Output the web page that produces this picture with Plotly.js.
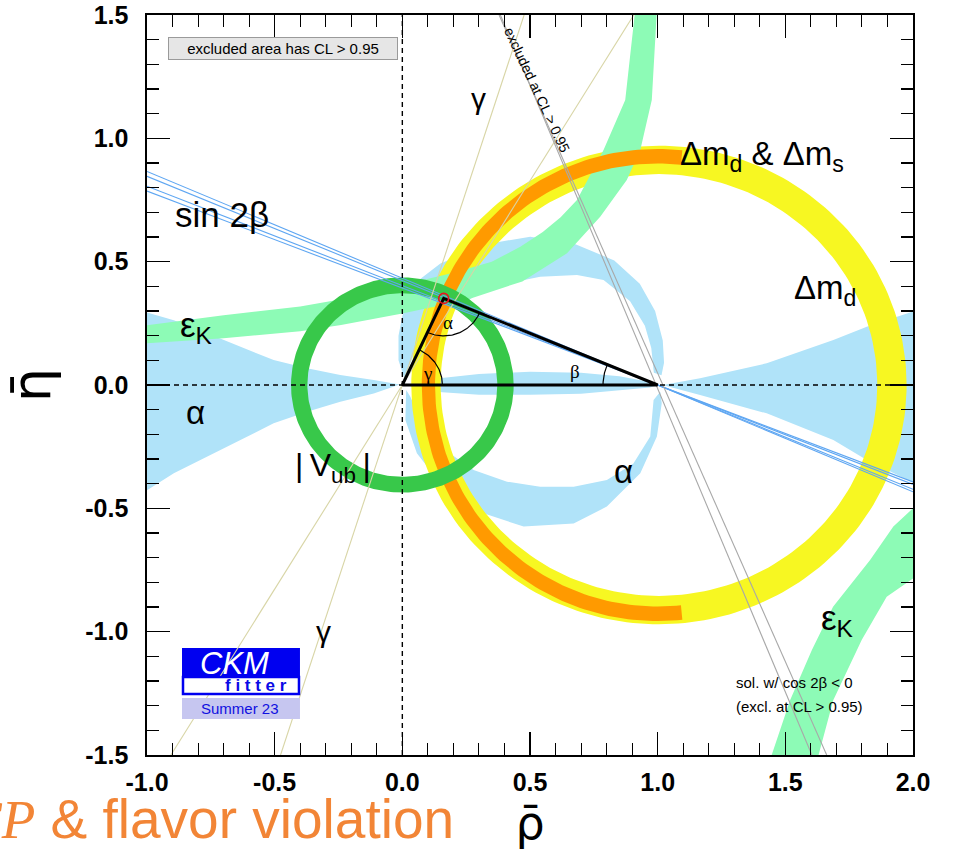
<!DOCTYPE html>
<html><head><meta charset="utf-8">
<script src="https://cdn.plot.ly/plotly-3.0.1.min.js"></script>
<style>html,body{margin:0;padding:0;background:#fff}</style>
</head><body><div id="chart" style="width:955px;height:859px"></div>
<script>
// ================= values =================
const xTickVals = [-1.0, -0.5, 0.0, 0.5, 1.0, 1.5, 2.0];
const xTickText = ['-1.0', '-0.5', '0.0', '0.5', '1.0', '1.5', '2.0'];
const yTickVals = [-1.5, -1.0, -0.5, 0.0, 0.5, 1.0, 1.5];
const yTickText = ['-1.5', '-1.0', '-0.5', '0.0', '0.5', '1.0', '1.5'];

// Δm_d : annulus around (1,0)
const dmdCentre = [1.005, 0.0];
const dmdRadii = [0.855, 0.970];
// Δm_d & Δm_s : partial elliptic band (semi-axes ρ̄, η̄; angles in degrees ccw from +ρ̄)
const dmsCentre = [1.0, 0.0];
const dmsOuterAxes = [0.924, 0.957];
const dmsInnerAxes = [0.872, 0.898];
const dmsAngles = [84, 276];
// |V_ub| : annulus around (0,0)
const vubCentre = [0.0, 0.0];
const vubRadii = [0.372, 0.436];
// sin 2β : lines through (1,0); η̄ value reached at ρ̄ = -1
const sin2bEtaAtMinus1 = [0.866, 0.846, 0.806, 0.786];
// γ : lines through (0,0); slopes η̄/ρ̄
const gammaSlopes = [1.655, 3.145];
// cos 2β < 0 solution lines: ρ̄ at η̄ = +1.5 and at η̄ = -1.5
const cos2bRhoTop = [0.384, 0.379];
const cos2bRhoBottom = [1.604, 1.662];
// unitarity triangle apex
const apex = [0.162, 0.351];

// α : left wedge (upper edge, then lower edge)
const alphaLeftUpRho = [-1.02, -0.895, -0.764, -0.634, -0.504, -0.373, -0.243, -0.112, -0.01];
const alphaLeftUpEta = [0.300, 0.263, 0.210, 0.155, 0.101, 0.068, 0.041, 0.020, 0.002];
const alphaLeftLoRho = [-0.112, -0.243, -0.373, -0.504, -0.634, -0.764, -0.895, -1.02];
const alphaLeftLoEta = [-0.034, -0.068, -0.108, -0.155, -0.223, -0.290, -0.358, -0.440];
// α : right wedge
const alphaRightUpRho = [1.02, 1.166, 1.427, 1.688, 1.819, 2.02];
const alphaRightUpEta = [0.0, 0.027, 0.088, 0.182, 0.236, 0.305];
const alphaRightLoRho = [2.02, 1.819, 1.688, 1.427, 1.166];
const alphaRightLoEta = [-0.405, -0.304, -0.223, -0.115, -0.041];
// α : thin lens between (0,0) and (1,0)
const alphaLensRho = [0.03, 0.10, 0.30, 0.50, 0.70, 0.85, 0.97, 1.00, 0.97, 0.85, 0.70, 0.50, 0.30, 0.10];
const alphaLensEta = [0.0, 0.022, 0.045, 0.054, 0.050, 0.035, 0.012, 0.0, -0.010, -0.020, -0.035, -0.040, -0.040, -0.025];
// α : upper crescent (outer edge, then inner edge)
const alphaUpOutRho = [0.010, -0.015, -0.015, 0.000, 0.031, 0.070, 0.149, 0.344, 0.501, 0.671, 0.830, 0.930, 0.990, 1.020, 1.025, 1.015];
const alphaUpOutEta = [0.020, 0.100, 0.200, 0.280, 0.358, 0.430, 0.493, 0.574, 0.601, 0.574, 0.505, 0.410, 0.300, 0.180, 0.090, 0.040];
const alphaUpInRho = [0.985, 0.975, 0.950, 0.892, 0.788, 0.684, 0.540, 0.410, 0.279, 0.149, 0.058, 0.025];
const alphaUpInEta = [0.050, 0.150, 0.240, 0.340, 0.426, 0.446, 0.439, 0.412, 0.358, 0.263, 0.155, 0.074];
// α : lower crescent
const alphaLoOutRho = [0.015, 0.012, 0.057, 0.149, 0.279, 0.475, 0.671, 0.801, 0.932, 0.997, 1.016, 1.010];
const alphaLoOutEta = [-0.020, -0.142, -0.277, -0.399, -0.507, -0.574, -0.561, -0.493, -0.358, -0.209, -0.074, -0.027];
const alphaLoInRho = [0.984, 0.971, 0.905, 0.801, 0.671, 0.540, 0.410, 0.279, 0.149, 0.070, 0.031];
const alphaLoInEta = [-0.061, -0.209, -0.318, -0.385, -0.412, -0.412, -0.392, -0.345, -0.250, -0.142, -0.047];

// ε_K : upper branch (upper edge left→right, lower edge right→left)
const epsUpRho = [-1.02, -0.70, -0.40, -0.20, 0.00, 0.20, 0.35, 0.462, 0.55, 0.62, 0.684, 0.788, 0.873, 0.912];
const epsUpEta = [0.240, 0.283, 0.318, 0.355, 0.405, 0.455, 0.500, 0.560, 0.620, 0.680, 0.750, 0.953, 1.155, 1.520];
const epsLoRho = [0.997, 0.977, 0.932, 0.879, 0.775, 0.645, 0.470, 0.250, 0.000, -0.24, -0.40, -0.70, -1.02];
const epsLoEta = [1.520, 1.155, 0.953, 0.831, 0.682, 0.534, 0.420, 0.345, 0.290, 0.243, 0.218, 0.190, 0.168];
// ε_K : lower-right branch
const eps2LeftRho = [1.440, 1.519, 1.604, 1.687, 1.832, 1.923, 2.02];
const eps2LeftEta = [-1.52, -1.277, -1.074, -0.899, -0.709, -0.574, -0.480];
const eps2RightRho = [2.02, 1.897, 1.799, 1.688, 1.625];
const eps2RightEta = [-0.770, -0.858, -1.034, -1.277, -1.52];

// ================= helpers =================
function arc(cx, cy, rx, ry, a0, a1, n) {
  const xs = [], ys = [];
  for (let i = 0; i <= n; i++) {
    const a = (a0 + (a1 - a0) * i / n) * Math.PI / 180;
    xs.push(cx + rx * Math.cos(a)); ys.push(cy + ry * Math.sin(a));
  }
  return [xs, ys];
}
function ring(c, radii) {
  const o = arc(c[0], c[1], radii[1], radii[1], 0, 360, 240);
  const i = arc(c[0], c[1], radii[0], radii[0], 360, 0, 240);
  return [o[0].concat([null], i[0]), o[1].concat([null], i[1])];
}
function band(c, outAx, inAx, ang) {
  const o = arc(c[0], c[1], outAx[0], outAx[1], ang[0], ang[1], 160);
  const i = arc(c[0], c[1], inAx[0], inAx[1], ang[1], ang[0], 160);
  return [o[0].concat(i[0]), o[1].concat(i[1])];
}
function poly(x, y, color) {
  return {type: 'scatter', mode: 'lines', x: x, y: y, fill: 'toself', fillcolor: color,
          line: {width: 0, color: color}, hoverinfo: 'skip'};
}
function line(x, y, color, width, dash) {
  return {type: 'scatter', mode: 'lines', x: x, y: y,
          line: {color: color, width: width, dash: dash || 'solid'}, hoverinfo: 'skip'};
}

const BLUE = '#B0E3F9', EPSG = '#8DFBB6', YEL = '#F7F722', ORA = '#FF9A00', VUBG = '#38C84A';
const traces = [];

// α
traces.push(poly(alphaLeftUpRho.concat(alphaLeftLoRho), alphaLeftUpEta.concat(alphaLeftLoEta), BLUE));
traces.push(poly(alphaRightUpRho.concat(alphaRightLoRho), alphaRightUpEta.concat(alphaRightLoEta), BLUE));
traces.push(poly(alphaLensRho, alphaLensEta, BLUE));
traces.push(poly(alphaUpOutRho.concat(alphaUpInRho), alphaUpOutEta.concat(alphaUpInEta), BLUE));
traces.push(poly(alphaLoOutRho.concat(alphaLoInRho), alphaLoOutEta.concat(alphaLoInEta), BLUE));
// Δm_d
const dmd = ring(dmdCentre, dmdRadii);
traces.push(poly(dmd[0], dmd[1], YEL));
// ε_K
traces.push(poly(epsUpRho.concat(epsLoRho), epsUpEta.concat(epsLoEta), EPSG));
traces.push(poly(eps2LeftRho.concat(eps2RightRho), eps2LeftEta.concat(eps2RightEta), EPSG));
// Δm_d & Δm_s
const dms = band(dmsCentre, dmsOuterAxes, dmsInnerAxes, dmsAngles);
traces.push(poly(dms[0], dms[1], ORA));
// |V_ub|
const vub = ring(vubCentre, vubRadii);
traces.push(poly(vub[0], vub[1], VUBG));
// sin 2β lines
sin2bEtaAtMinus1.forEach(e => {
  const s = -e / 2; // slope of the line through (1,0) reaching e at ρ=-1
  traces.push(line([-1.0, 2.0], [e, s * 1.0], '#5EA6F2', 1.1));
});
// γ lines
gammaSlopes.forEach(s => traces.push(line([-1.5 / s, 1.5 / s], [-1.5, 1.5], '#D8D5A6', 1.1)));
// cos 2β < 0 lines
cos2bRhoTop.forEach((t, k) => traces.push(line([t, cos2bRhoBottom[k]], [1.5, -1.5], '#A8A8A8', 1.1)));
// dashed axes
traces.push(line([0, 0], [-1.5, 1.5], '#000', 1.4, '5px,4px'));
traces.push(line([-1, 2], [0, 0], '#000', 1.4, '5px,4px'));
// triangle
traces.push(line([0, apex[0], 1, 0], [0, apex[1], 0, 0], '#000', 3));
// angle arcs
const dirToO = Math.atan2(-apex[1], -apex[0]) * 180 / Math.PI;
const dirToOne = Math.atan2(-apex[1], 1 - apex[0]) * 180 / Math.PI;
let aA = arc(apex[0], apex[1], 0.152, 0.152, dirToO, dirToOne, 60);
traces.push(line(aA[0], aA[1], '#000', 1.2));
const gDir = Math.atan2(apex[1], apex[0]) * 180 / Math.PI;
let aG = arc(0, 0, 0.157, 0.157, 0, gDir, 60);
traces.push(line(aG[0], aG[1], '#000', 1.2));
const bDir = Math.atan2(apex[1], apex[0] - 1) * 180 / Math.PI;
let aB = arc(1, 0, 0.214, 0.214, bDir, 180, 60);
traces.push(line(aB[0], aB[1], '#000', 1.2));
traces.push({type: 'scatter', mode: 'markers', x: [apex[0]], y: [apex[1]],
  marker: {symbol: 'circle-open', size: 10, color: '#E8141C', line: {width: 1.6, color: '#E8141C'}}, hoverinfo: 'skip'});

// ================= layout =================
const LBL = {family: 'Liberation Sans, Arial, sans-serif', color: '#000'};
function lab(text, x, y, size, extra) {
  return Object.assign({text: text, x: x, y: y, xref: 'x', yref: 'y', showarrow: false,
    xanchor: 'center', yanchor: 'middle', font: Object.assign({}, LBL, {size: size})}, extra || {});
}
function plab(text, x, y, font) {
  return {text: text, x: x, y: y, xref: 'paper', yref: 'paper', xanchor: 'center', yanchor: 'middle',
          showarrow: false, font: font};
}
const SERIF = {family: 'Liberation Serif, serif', size: 19, color: '#000'};
const annotations = [
  lab('γ', 0.297, 1.160, 30),
  lab('γ', -0.309, -1.000, 30),
  lab('Δm<sub>d</sub> & Δm<sub>s</sub>', 1.409, 0.930, 33),
  lab('Δm<sub>d</sub>', 1.656, 0.385, 33),
  lab('sin 2β', -0.705, 0.690, 35),
  lab('ε<sub>K</sub>', -0.805, 0.235, 35),
  lab('α', -0.81, -0.113, 33),
  lab('α', 0.865, -0.350, 33),
  lab('|\u2009V<sub>ub</sub>\u2009|', -0.27, -0.336, 32),
  lab('ε<sub>K</sub>', 1.706, -0.953, 35),
  lab('α', 0.178, 0.253, 19, {font: SERIF}),
  lab('γ', 0.10, 0.048, 19, {font: SERIF}),
  lab('β', 0.678, 0.056, 19, {font: SERIF}),
  lab('sol. w/ cos 2β < 0', 1.30, -1.208, 15, {xanchor: 'left'}),
  lab('(excl. at CL > 0.95)', 1.30, -1.305, 15, {xanchor: 'left'}),
  lab('excluded at CL > 0.95', 0.528, 1.196, 14, {textangle: 65}),
  lab('excluded area has CL > 0.95', -0.466, 1.364, 15,
      {bgcolor: '#E6E6E6', bordercolor: '#9A9A9A', borderwidth: 1, borderpad: 1, width: 226, height: 19}),
  // logo
  plab('<i>CKM</i>', 0.1136, 0.1243, {family: 'Liberation Sans, Arial, sans-serif', size: 31, color: '#fff'}),
  plab('<b>f i t t e r</b>', 0.1423, 0.0935, {family: 'Liberation Sans, Arial, sans-serif', size: 17, color: '#0A0AE6'}),
  plab('Summer 23', 0.1214, 0.0630, {family: 'Liberation Sans, Arial, sans-serif', size: 15, color: '#1010E0'}),
  // bottom caption (clipped at the left page edge)
  {text: "<span style=\"font-family:'Liberation Serif',serif\"><i>CP</i></span> & flavor violation",
   xref: 'paper', yref: 'paper', x: 0.4035, y: -0.086, xanchor: 'right', yanchor: 'middle', showarrow: false,
   font: {family: 'Liberation Sans, Arial, sans-serif', size: 55, color: '#F28536'}}
];
const shapes = [
  {type: 'rect', xref: 'paper', yref: 'paper', x0: 0.0457, x1: 0.1997, y0: 0.1054, y1: 0.1446,
   fillcolor: '#0000F0', line: {width: 0}, layer: 'below'},
  {type: 'rect', xref: 'paper', yref: 'paper', x0: 0.0470, x1: 0.1984, y0: 0.0825, y1: 0.1054,
   fillcolor: '#FFFFFF', line: {width: 2.5, color: '#0000F0'}},
  {type: 'rect', xref: 'paper', yref: 'paper', x0: 0.0457, x1: 0.1997, y0: 0.0486, y1: 0.0770,
   fillcolor: '#C6C6F0', line: {width: 0}}
];
const tickFont = {family: 'Liberation Sans, Arial, sans-serif', size: 25, color: '#000', weight: 'bold'};
const axisCommon = {
  ticks: 'inside', ticklen: 23, tickwidth: 1.3, tickcolor: '#000', tickmode: 'array',
  showline: true, linecolor: '#000', linewidth: 1.6, mirror: 'ticks', showgrid: false, zeroline: false,
  tickfont: tickFont,
  minor: {ticks: 'inside', ticklen: 12, tickwidth: 1.1, tickcolor: '#000', tickmode: 'linear', tick0: 0, dtick: 0.1, showgrid: false}
};
const layout = {
  width: 955, height: 859, margin: {l: 147, r: 42, t: 15, b: 104},
  paper_bgcolor: '#fff', plot_bgcolor: '#fff', showlegend: false,
  xaxis: Object.assign({}, axisCommon, {range: [-1, 2], tickvals: xTickVals, ticktext: xTickText,
    ticklabelstandoff: 4,
    title: {text: 'ρ\u0304', font: {family: 'DejaVu Sans, sans-serif', size: 46, color: '#000'}, standoff: 12}}),
  yaxis: Object.assign({}, axisCommon, {range: [-1.5, 1.5], tickvals: yTickVals, ticktext: yTickText,
    ticklabelstandoff: 12,
    title: {text: 'η\u0304', font: {family: 'DejaVu Sans, sans-serif', size: 54, color: '#000'}, standoff: 33}}),
  annotations: annotations, shapes: shapes
};
Plotly.newPlot('chart', traces, layout, {displayModeBar: false, staticPlot: true});
</script></body></html>
